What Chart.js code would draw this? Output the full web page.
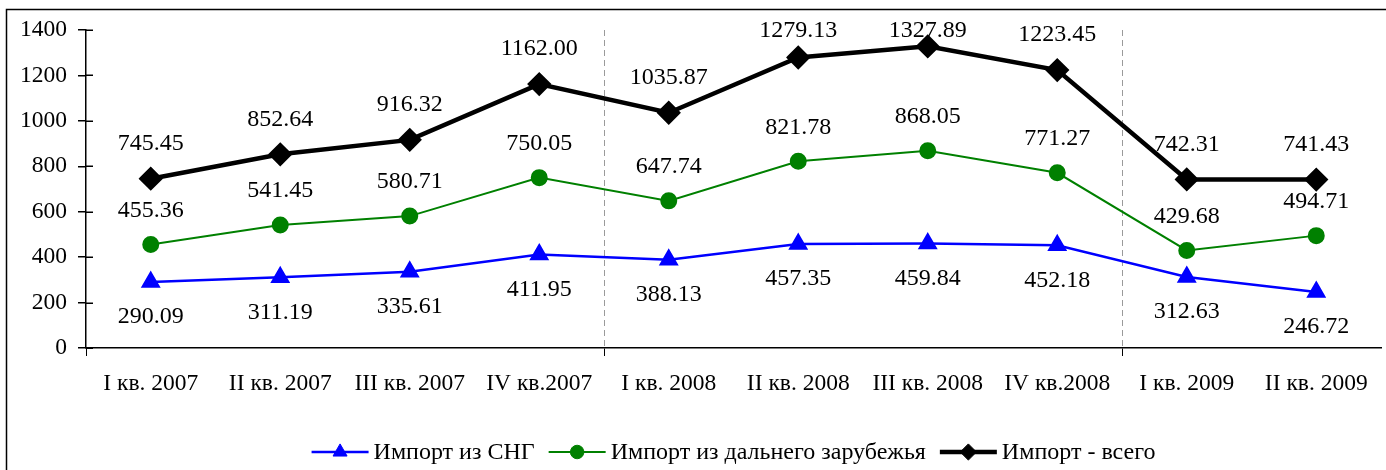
<!DOCTYPE html>
<html>
<head>
<meta charset="utf-8">
<script src="https://cdn.jsdelivr.net/npm/chart.js@4"></script>
<style>
  html, body { margin: 0; padding: 0; background: #fff; }
  #wrap { width: 1386px; height: 470px; }
</style>
</head>
<body>
<div id="wrap"><canvas id="importChart" width="1386" height="470"></canvas></div>
<script>
const quarters = ['I кв. 2007', 'II кв. 2007', 'III кв. 2007', 'IV кв.2007', 'I кв. 2008',
                  'II кв. 2008', 'III кв. 2008', 'IV кв.2008', 'I кв. 2009', 'II кв. 2009'];
const importCis   = [290.09, 311.19, 335.61, 411.95, 388.13, 457.35, 459.84, 452.18, 312.63, 246.72];
const importFar   = [455.36, 541.45, 580.71, 750.05, 647.74, 821.78, 868.05, 771.27, 429.68, 494.71];
const importTotal = [745.45, 852.64, 916.32, 1162.00, 1035.87, 1279.13, 1327.89, 1223.45, 742.31, 741.43];
const yTicks = [0, 200, 400, 600, 800, 1000, 1200, 1400];

const serif = '"Liberation Serif", "Times New Roman", serif';

// value labels above / below each point, kept inside the plot area
const valueLabels = {
    id: 'valueLabels',
    afterDatasetsDraw(chart) {
        const ctx = chart.ctx;
        const top = chart.chartArea.top;
        ctx.save();
        ctx.font = '24px ' + serif;
        ctx.fillStyle = '#000';
        ctx.textAlign = 'center';
        ctx.textBaseline = 'middle';
        chart.data.datasets.forEach((ds, i) => {
            const meta = chart.getDatasetMeta(i);
            meta.data.forEach((pt, j) => {
                const y = Math.max(pt.y + ds.labelShift, top + 1);
                ctx.fillText(ds.data[j].toFixed(2), pt.x, y);
            });
        });
        ctx.restore();
    }
};

// y ticks cross the axis (the inner half of each tick mark)
const innerTicks = {
    id: 'innerTicks',
    afterDraw(chart) {
        const ctx = chart.ctx;
        const yScale = chart.scales.y;
        const x0 = chart.chartArea.left;
        ctx.save();
        ctx.strokeStyle = '#000';
        ctx.lineWidth = 1.5;
        yTicks.forEach(v => {
            const y = Math.round(yScale.getPixelForValue(v)) + 0.25;
            ctx.beginPath();
            ctx.moveTo(x0, y);
            ctx.lineTo(x0 + 7, y);
            ctx.stroke();
        });
        ctx.restore();
    }
};

// outer frame + legend with line and marker
const frameAndLegend = {
    id: 'frameAndLegend',
    afterDraw(chart) {
        const ctx = chart.ctx;
        ctx.save();
        ctx.strokeStyle = '#000';
        ctx.lineWidth = 1.5;
        ctx.strokeRect(6.5, 9.5, 1420, 480);

        ctx.font = '24px ' + serif;
        ctx.textBaseline = 'middle';
        const lineLen = 57, gapText = 5, gapItem = 14;
        const items = chart.data.datasets;
        let total = 0;
        items.forEach((ds, i) => {
            total += lineLen + gapText + ctx.measureText(ds.label).width;
            if (i < items.length - 1) total += gapItem;
        });
        const area = chart.chartArea;
        let x = (area.left + area.right) / 2 - total / 2;
        const y = 452;
        items.forEach(ds => {
            ctx.strokeStyle = ds.borderColor;
            ctx.lineWidth = ds.borderWidth;
            ctx.beginPath();
            ctx.moveTo(x, y);
            ctx.lineTo(x + lineLen, y);
            ctx.stroke();
            ctx.fillStyle = ds.pointBackgroundColor;
            ctx.strokeStyle = ds.pointBorderColor;
            ctx.lineWidth = 1;
            Chart.helpers.drawPoint(ctx, {pointStyle: ds.pointStyle, radius: ds.pointRadius * 0.9, borderWidth: 1}, x + lineLen / 2, y);
            ctx.fillStyle = '#000';
            ctx.textAlign = 'left';
            ctx.fillText(ds.label, x + lineLen + gapText, y + 1);
            x += lineLen + gapText + ctx.measureText(ds.label).width + gapItem;
        });
        ctx.restore();
    }
};

const ctx = document.getElementById('importChart').getContext('2d');
new Chart(ctx, {
    type: 'line',
    data: {
        labels: quarters,
        datasets: [
            {
                label: 'Импорт из СНГ',
                data: importCis,
                borderColor: '#0000ff',
                backgroundColor: '#0000ff',
                pointBackgroundColor: '#0000ff',
                pointBorderColor: '#0000ff',
                borderWidth: 2.5,
                pointStyle: 'triangle',
                pointRadius: 9,
                tension: 0,
                labelShift: 35
            },
            {
                label: 'Импорт из дальнего зарубежья',
                data: importFar,
                borderColor: '#008000',
                backgroundColor: '#008000',
                pointBackgroundColor: '#008000',
                pointBorderColor: '#008000',
                borderWidth: 2,
                pointStyle: 'circle',
                pointRadius: 7.5,
                tension: 0,
                labelShift: -34
            },
            {
                label: 'Импорт - всего',
                data: importTotal,
                borderColor: '#000000',
                backgroundColor: '#000000',
                pointBackgroundColor: '#000000',
                pointBorderColor: '#000000',
                borderWidth: 4.5,
                pointStyle: 'rectRot',
                pointRadius: 9,
                tension: 0,
                labelShift: -35
            }
        ]
    },
    options: {
        responsive: false,
        animation: false,
        layout: { autoPadding: false, padding: { left: 0, right: 5, top: 30, bottom: 0 } },
        scales: {
            x: {
                offset: true,
                grid: {
                    offset: true,
                    drawOnChartArea: true,
                    tickLength: 8,
                    lineWidth: 1,
                    color: c => (c.index === 4 || c.index === 8) ? '#9a9a9a' : 'rgba(0,0,0,0)',
                    tickColor: c => (c.index === 0 || c.index === 4 || c.index === 8) ? '#000' : 'rgba(0,0,0,0)'
                },
                border: { color: '#000', width: 1.5, dash: [6, 4] },
                ticks: {
                    color: '#000',
                    font: { family: serif, size: 23.5 },
                    padding: 14,
                    maxRotation: 0,
                    autoSkip: false
                },
                afterFit(scale) {
                    scale.height = 122;
                    scale.paddingLeft = 0;
                    scale.paddingRight = 0;
                }
            },
            y: {
                min: 0,
                max: 1400,
                afterBuildTicks(scale) { scale.ticks = yTicks.map(v => ({ value: v })); },
                grid: { drawOnChartArea: false, tickLength: 8, color: '#000', lineWidth: 1.5 },
                border: { color: '#000', width: 1.5 },
                ticks: {
                    color: '#000',
                    font: { family: serif, size: 23.5 },
                    padding: 11,
                    callback: v => String(v)
                },
                afterFit(scale) { scale.width = 86; }
            }
        },
        plugins: {
            legend: { display: false },
            tooltip: { enabled: false }
        }
    },
    plugins: [valueLabels, innerTicks, frameAndLegend]
});
</script>
</body>
</html>
